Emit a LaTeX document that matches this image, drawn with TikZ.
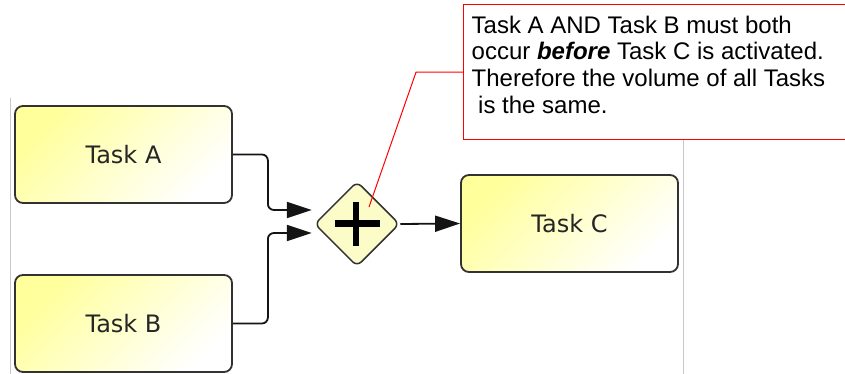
\documentclass[tikz,border=0pt]{standalone}
\usepackage{fontspec}
\setmainfont{Liberation Sans}
\newfontfamily\taskfont{DejaVu Sans}
\usetikzlibrary{shapes.geometric,arrows.meta,calc}

\definecolor{taskfill}{RGB}{255,255,155}
\definecolor{taskedge}{RGB}{50,50,50}
\definecolor{guide}{RGB}{200,200,200}
\definecolor{gatefill}{RGB}{252,252,200}

\begin{document}
\begin{tikzpicture}[x=1pt,y=-1pt,
  task/.style={draw=taskedge, line width=1.8pt, rounded corners=8pt,
    minimum width=217pt, minimum height=97pt, inner sep=0pt,
    top color=taskfill, bottom color=white, shading angle=45,
    font=\taskfont\fontsize{24}{28}\selectfont, text=black!85},
  gate/.style={diamond, aspect=1, draw=taskedge, line width=1.5pt,
    rounded corners=6pt, minimum width=85pt, minimum height=85pt,
    inner sep=0pt, fill=gatefill},
  plusbar/.style={draw=black, line width=6.5pt},
  flow/.style={draw=black!92, line width=1.8pt, rounded corners=6pt,
    -{Triangle[length=25pt,width=16pt]}},
  guide/.style={draw=guide, line width=1pt},
  note/.style={draw=red, line width=1pt, fill=white,
    minimum width=420pt, minimum height=134.5pt, inner sep=0pt},
  notetext/.style={inner sep=0pt, align=left,
    font=\fontsize{24}{26.7}\selectfont, text=black},
  callout/.style={draw=red, line width=1pt}
]
\clip (0,0) rectangle (845,374);
\fill[white] (0,0) rectangle (845,374);

% lane guide lines
\draw[guide] (10,98) -- (10,374);
\draw[guide] (683,139.5) -- (683,374);

% tasks
\node[task] (A) at (123.5,154.5) {Task A};
\node[task] (B) at (123.5,323.5) {Task B};
\node[task] (C) at (569.5,223.5) {Task C};

% parallel gateway
\node[gate] (g) at (357,224) {};
\draw[plusbar] ($(g.center)+(-22.5,-0.5)$) -- ($(g.center)+(22.5,-0.5)$);
\draw[plusbar] ($(g.center)+(-1,-22.5)$) -- ($(g.center)+(-1,21.5)$);

% sequence flows
\draw[flow] (A.east) -- ($(A.east)+(35,0)$) |- ($(g.west)+(-2,-14)$);
\draw[flow] (B.east) -- ($(B.east)+(35,0)$) |- ($(g.west)+(-2,9)$);
\draw[flow] (g.east) -- (C.west);

% annotation
\node[note, anchor=north west] (note) at (463,4.5) {};
\node[notetext, anchor=north west] (nt) at ($(note.north west)+(8.5,11)$)
  {Task A AND Task B must both\\
   occur \textbf{\textit{before}} Task C is activated.\\
   Therefore the volume of all Tasks\\
   \hspace*{6.5pt}is the same.};
\draw[callout] ($(g.center)+(12,-17)$) -- ($(note.west)+(-47,0)$) -- (note.west);
\end{tikzpicture}
\end{document}
